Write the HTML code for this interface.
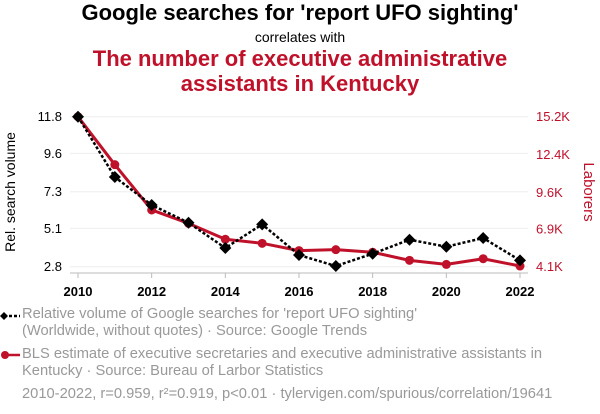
<!DOCTYPE html>
<html><head><meta charset="utf-8"><style>
body{margin:0;background:#fff;font-family:"Liberation Sans",sans-serif;}
#wrap{position:relative;width:600px;height:414px;overflow:hidden;}
.t{position:absolute;left:0;width:600px;text-align:center;white-space:nowrap;}
.leg{position:absolute;left:22px;font-size:14.7px;color:#999;line-height:17px;white-space:nowrap;}
</style></head><body><div id="wrap">
<div class="t" style="top:0px;font-size:22px;font-weight:bold;color:#000">Google searches for 'report UFO sighting'</div>
<div class="t" style="top:29px;font-size:14px;color:#000">correlates with</div>
<div class="t" style="top:46px;font-size:22px;font-weight:bold;color:#c0112b;line-height:25px">The number of executive administrative<br>assistants in Kentucky</div>
<svg id="svg" width="600" height="414" style="position:absolute;left:0;top:0"></svg>
<div class="leg" style="top:306px">Relative volume of Google searches for 'report UFO sighting'<br>(Worldwide, without quotes) · Source: Google Trends</div>
<div class="leg" style="top:346px">BLS estimate of executive secretaries and executive administrative assistants in<br>Kentucky · Source: Bureau of Larbor Statistics</div>
<div class="leg" style="top:386px">2010-2022, r=0.959, r²=0.919, p&lt;0.01 · tylervigen.com/spurious/correlation/19641</div>
</div>
<script>
const years=[2010,2011,2012,2013,2014,2015,2016,2017,2018,2019,2020,2021,2022];
const searches=[11.8,8.18,6.5,5.44,3.92,5.34,3.5,2.84,3.58,4.42,4.0,4.52,3.18];
const laborers=[15200,11650,8300,7310,6130,5830,5290,5360,5170,4570,4270,4690,4150];
const leftTicks=[11.8,9.6,7.3,5.1,2.8];
const rightTicks=[15200,12400,9600,6900,4100];
const rightLabels=["15.2K","12.4K","9.6K","6.9K","4.1K"];
const xTicks=[2010,2012,2014,2016,2018,2020,2022];
const NS="http://www.w3.org/2000/svg";const svg=document.getElementById('svg');
const x=v=>78+(v-2010)/12*442;
const yl=v=>116.7+(11.8-v)/9*150;
const yr=v=>116.7+(15200-v)/11100*150;
function mk(t,a,txt){const e=document.createElementNS(NS,t);for(const k in a)e.setAttribute(k,a[k]);if(txt!=null)e.textContent=txt;svg.appendChild(e);return e;}
leftTicks.forEach(v=>{
const g=mk('line',{x1:70,x2:528,y1:yl(v),y2:yl(v),stroke:'#eee','stroke-width':1});


const t=mk('text',{x:62,y:yl(v)+4.5,'text-anchor':'end','font-size':13,fill:'#000'},v.toFixed(1));


});
rightTicks.forEach((v,i)=>{
const t=mk('text',{x:536,y:yr(v)+4.5,'font-size':13,fill:'#c0112b'},rightLabels[i]);


});
const ax=mk('line',{x1:70,x2:528,y1:273,y2:273,stroke:'#bbb','stroke-width':1});


xTicks.forEach(v=>{
const tk=mk('line',{x1:x(v),x2:x(v),y1:273,y2:278,stroke:'#bbb'});


const t=mk('text',{x:x(v),y:296,'text-anchor':'middle','font-size':13,'font-weight':'bold',fill:'#000'},v);


});
const yt=mk('text',{transform:'translate(15,192) rotate(-90)','text-anchor':'middle','font-size':14,fill:'#000'},'Rel. search volume');


const yt2=mk('text',{transform:'translate(584,192) rotate(90)','text-anchor':'middle','font-size':15,fill:'#c0112b'},'Laborers');


const rl=mk('polyline',{points:years.map((y,i)=>x(y)+','+yr(laborers[i])).join(' '),fill:'none',stroke:'#c0112b','stroke-width':3,'stroke-linejoin':'round'});


years.forEach((y,i)=>{
const c=mk('circle',{cx:x(y),cy:yr(laborers[i]),r:4.5,fill:'#c0112b'});


});
const bl=mk('polyline',{points:years.map((y,i)=>x(y)+','+yl(searches[i])).join(' '),fill:'none',stroke:'#000','stroke-width':2.5,'stroke-dasharray':'3,2'});


years.forEach((y,i)=>{
const cx=x(y),cy=yl(searches[i]);
const d=mk('polygon',{points:`${cx},${cy-6} ${cx+6},${cy} ${cx},${cy+6} ${cx-6},${cy}`,fill:'#000'});


});
const l1=mk('line',{x1:4,x2:20,y1:316,y2:316,stroke:'#000','stroke-width':2.5,'stroke-dasharray':'3,2'});


const d1=mk('polygon',{points:'4,312 8,316 4,320 0,316',fill:'#000'});


const l2=mk('line',{x1:4,x2:20,y1:355,y2:355,stroke:'#c0112b','stroke-width':2.5});


const c2=mk('circle',{cx:5,cy:355,r:4,fill:'#c0112b'});


</script></body></html>
